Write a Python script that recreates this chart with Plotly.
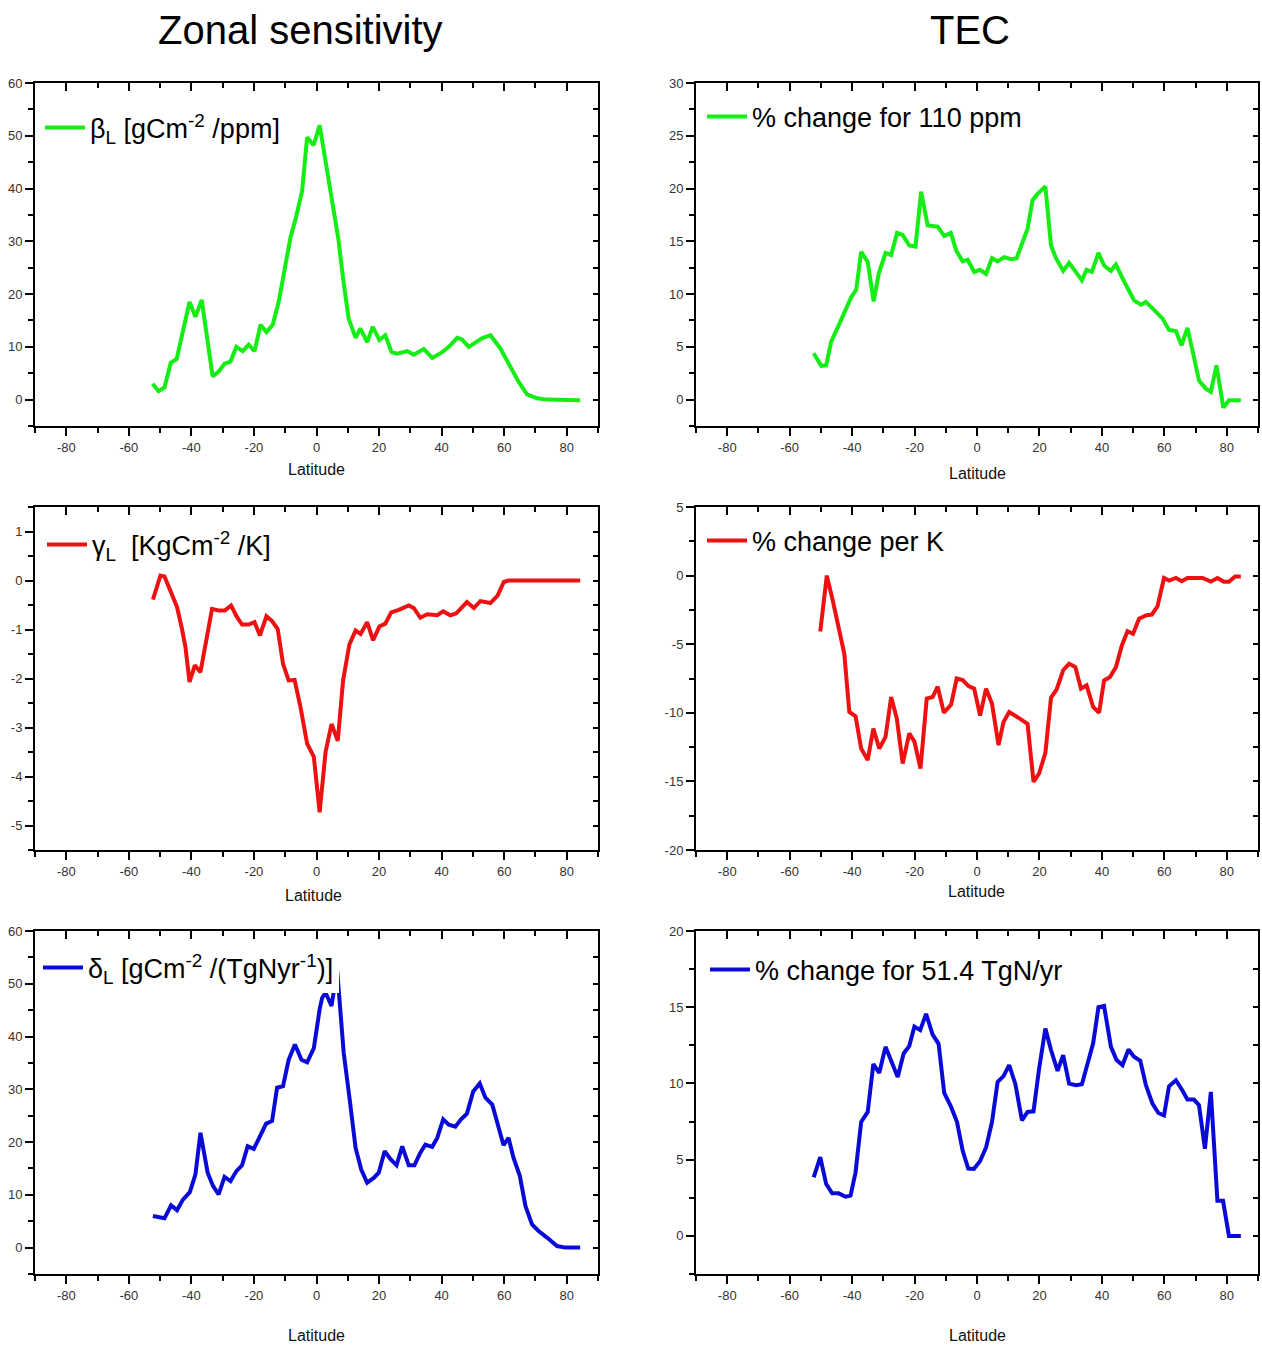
import plotly.graph_objects as go

# ---------------- data ----------------
lat_beta = [-52.4, -50.5, -48.6, -46.6, -44.7, -42.8, -40.6, -38.7, -36.7, -34.8, -33.2, -31.3,
            -29.4, -27.5, -25.6, -23.6, -21.7, -19.8, -17.9, -16.0, -14.0, -12.1, -10.2, -8.3,
            -6.7, -4.6, -3.0, -0.9, 1.0, 2.9, 5.0, 7.0, 8.7, 10.3, 12.5, 14.0, 16.2, 18.0, 20.1,
            22.0, 24.0, 25.8, 29.0, 31.1, 34.3, 37.0, 40.2, 42.3, 45.0, 46.5, 48.7, 50.8, 52.9,
            55.6, 58.8, 62.0, 64.6, 67.3, 70.5, 73.7, 79.0, 84.3]
beta = [3.0, 1.6, 2.3, 7.0, 7.7, 12.8, 18.5, 15.7, 18.9, 11.0, 4.4, 5.3,
        6.8, 7.2, 10.0, 9.2, 10.4, 9.2, 14.2, 12.8, 14.2, 18.5, 24.5, 30.8,
        34.2, 39.5, 49.7, 48.2, 52.0, 45.5, 37.4, 30.4, 22.0, 15.3, 11.7, 13.5, 10.9, 13.8, 11.3,
        12.2, 9.0, 8.7, 9.2, 8.5, 9.6, 7.9, 9.0, 10.0, 11.7, 11.4, 10.0, 10.9, 11.6,
        12.2, 9.7, 6.2, 3.4, 1.0, 0.25, 0.0, -0.1, -0.1]

lat_tec_co2 = [-52.3, -49.9, -48.3, -46.7, -44.05, -40.3, -38.7, -37.1, -35.0, -33.1, -31.5, -29.3,
               -27.5, -25.6, -23.8, -21.7, -19.7, -17.9, -15.8, -12.6, -10.5, -8.4, -6.6, -4.6,
               -3.0, -0.9, 0.9, 2.9, 4.8, 6.6, 8.7, 10.9, 12.7, 14.1, 16.2, 17.8, 19.4, 21.9,
               23.7, 25.3, 27.6, 29.5, 31.7, 33.6, 35.1, 36.8, 38.9, 40.7, 42.9, 44.5, 46.6,
               48.2, 50.3, 52.5, 54.1, 56.7, 59.4, 61.5, 63.7, 65.5, 67.4, 69.5, 71.1, 73.3,
               74.9, 76.7, 78.9, 80.7, 84.5]
tec_co2 = [4.4, 3.2, 3.25, 5.5, 7.2, 9.7, 10.4, 14.0, 13.05, 9.3, 11.9, 13.9,
           13.7, 15.8, 15.6, 14.6, 14.5, 19.7, 16.5, 16.4, 15.5, 15.8, 14.1, 13.1,
           13.25, 12.1, 12.3, 11.9, 13.4, 13.1, 13.5, 13.3, 13.4, 14.6, 16.2, 18.9, 19.5, 20.2,
           14.6, 13.4, 12.2, 12.95, 12.1, 11.3, 12.3, 12.1, 13.9, 12.7, 12.2, 12.8, 11.5,
           10.5, 9.4, 9.0, 9.26, 8.5, 7.7, 6.6, 6.5, 5.15, 6.8, 4.0, 1.8, 1.04,
           0.73, 3.25, -0.76, -0.06, -0.06]

lat_gamma = [-52.3, -51.0, -49.9, -48.6, -47.3, -45.9, -44.6, -43.0, -41.9, -40.6, -38.9, -37.1,
             -35.2, -33.4, -31.3, -29.3, -27.3, -25.4, -23.8, -21.7, -19.8, -18.1, -16.0, -14.2,
             -12.4, -10.7, -8.9, -7.0, -5.1, -3.0, -0.85, 1.0, 2.9, 4.8, 6.8, 8.5, 10.5, 12.5,
             14.1, 16.2, 18.1, 20.1, 22.0, 23.9, 26.3, 29.5, 31.1, 33.2, 35.4, 38.6, 40.5, 42.8,
             44.7, 48.1, 50.3, 52.4, 55.6, 57.9, 59.9, 61.4, 84.3]
gamma = [-0.39, -0.1, 0.1, 0.08, -0.14, -0.37, -0.54, -0.99, -1.36, -2.07, -1.73, -1.87,
         -1.22, -0.58, -0.61, -0.61, -0.51, -0.75, -0.9, -0.9, -0.85, -1.12, -0.73, -0.83,
         -0.99, -1.7, -2.04, -2.03, -2.59, -3.33, -3.6, -4.73, -3.5, -2.93, -3.27, -2.04, -1.31, -1.02,
         -1.09, -0.85, -1.22, -0.94, -0.88, -0.65, -0.6, -0.51, -0.56, -0.76, -0.69, -0.71, -0.63, -0.71,
         -0.67, -0.44, -0.56, -0.42, -0.46, -0.31, -0.03, 0.0, 0.0]

lat_tec_temp = [-50.2, -48.1, -46.2, -44.05, -42.5, -40.9, -38.9, -37.1, -35.0, -33.2, -31.3, -29.3,
                -27.5, -25.7, -23.8, -21.7, -20.05, -18.1, -16.1, -14.2, -12.6, -10.6, -8.3, -6.5,
                -4.6, -2.7, -0.9, 1.0, 2.9, 4.8, 6.9, 8.5, 10.3, 12.5, 14.4, 16.2, 18.1, 19.9,
                21.9, 23.7, 25.5, 27.6, 29.5, 31.5, 33.3, 35.1, 37.2, 39.1, 40.7, 42.6, 44.5,
                46.4, 48.2, 50.0, 51.9, 54.1, 56.0, 57.8, 59.9, 61.5, 63.7, 65.6, 67.4, 72.2,
                74.9, 77.0, 79.1, 80.7, 82.7, 84.5]
tec_temp = [-4.07, 0.0, -1.82, -4.24, -5.7, -9.94, -10.25, -12.6, -13.45, -11.15, -12.6, -11.76,
            -8.85, -10.4, -13.7, -11.5, -12.1, -14.06, -8.97, -8.85, -8.1, -10.0, -9.4, -7.5,
            -7.62, -8.06, -8.24, -10.2, -8.24, -9.33, -12.36, -10.67, -9.94, -10.25, -10.5, -10.8, -15.03, -14.42,
            -12.92, -8.9, -8.3, -6.9, -6.42, -6.67, -8.24, -8.0, -9.58, -10.0, -7.64, -7.39, -6.67,
            -5.09, -4.05, -4.24, -3.15, -2.9, -2.84, -2.25, -0.17, -0.36, -0.17, -0.41, -0.17, -0.17,
            -0.44, -0.17, -0.44, -0.44, -0.07, -0.07]

lat_delta = [-52.3, -50.5, -48.6, -46.5, -44.6, -42.7, -40.5, -38.7, -37.1, -34.8, -33.1, -31.3,
             -29.4, -27.5, -25.6, -23.8, -22.0, -20.05, -18.1, -16.1, -14.2, -12.6, -10.7, -8.9,
             -6.9, -4.8, -3.0, -0.85, 1.07, 1.8, 2.9, 4.8, 6.6, 8.7, 10.6, 12.5, 14.3, 16.2,
             18.3, 19.9, 21.8, 23.6, 25.6, 27.4, 29.5, 31.3, 33.2, 34.8, 37.0, 38.6, 40.5,
             42.3, 44.4, 46.2, 48.1, 50.1, 52.2, 54.0, 56.2, 57.7, 59.8, 61.4, 63.0, 65.0,
             66.8, 68.9, 71.0, 73.7, 76.9, 79.6, 84.3]
delta = [6.0, 5.8, 5.55, 8.0, 7.1, 9.1, 10.5, 13.9, 21.75, 14.2, 11.7, 10.1,
         13.4, 12.6, 14.5, 15.6, 19.2, 18.7, 21.1, 23.5, 24.0, 30.3, 30.6, 35.6,
         38.5, 35.6, 35.1, 37.8, 45.4, 47.3, 48.3, 45.8, 52.6, 36.9, 28.1, 18.9, 14.8, 12.3,
         13.2, 14.2, 18.3, 16.8, 15.6, 19.2, 15.6, 15.6, 18.0, 19.5, 19.1, 20.8, 24.3,
         23.3, 22.9, 24.3, 25.4, 29.6, 31.1, 28.4, 27.1, 23.6, 19.4, 20.8, 17.0, 13.6,
         7.9, 4.4, 3.15, 1.9, 0.3, 0.0, 0.0]

lat_tec_n = [-52.3, -50.2, -48.3, -46.4, -44.3, -42.1, -40.5, -38.9, -37.1, -35.0, -33.2, -31.3,
             -29.3, -27.3, -25.4, -23.5, -21.7, -20.05, -18.2, -16.3, -14.2, -12.3, -10.5, -8.3,
             -6.4, -4.6, -2.8, -1.0, 0.95, 2.9, 4.8, 6.6, 8.5, 10.3, 12.3, 14.4, 16.2, 18.1,
             19.9, 21.9, 23.7, 25.8, 27.6, 29.5, 31.7, 33.6, 35.4, 37.2, 38.9, 40.7, 42.9,
             44.7, 46.6, 48.5, 50.3, 52.3, 54.1, 56.2, 58.1, 59.9, 61.5, 63.7, 65.6, 67.4,
             69.5, 71.1, 73.0, 74.9, 77.0, 78.8, 80.7, 84.5]
tec_n = [3.84, 5.16, 3.4, 2.79, 2.79, 2.57, 2.64, 4.17, 7.47, 8.13, 11.27, 10.7,
         12.4, 11.4, 10.43, 11.97, 12.45, 13.73, 13.5, 14.56, 13.2, 12.6, 9.38, 8.46,
         7.47, 5.6, 4.42, 4.39, 4.9, 5.8, 7.47, 10.1, 10.48, 11.2, 9.95, 7.58, 8.13, 8.17,
         10.98, 13.6, 12.19, 10.83, 11.86, 9.99, 9.88, 9.95, 11.3, 12.63, 15.0, 15.09, 12.4,
         11.53, 11.2, 12.23, 11.75, 11.49, 9.88, 8.68, 8.06, 7.9, 9.82, 10.21, 9.6, 8.94,
         8.94, 8.57, 5.71, 9.44, 2.3, 2.3, 0.0, 0.0]

x_ticks = [-80, -60, -40, -20, 0, 20, 40, 60, 80]
y_ticks_beta = [0, 10, 20, 30, 40, 50, 60]
y_ticks_tec_co2 = [0, 5, 10, 15, 20, 25, 30]
y_ticks_gamma = [-5, -4, -3, -2, -1, 0, 1]
y_ticks_tec_temp = [-20, -15, -10, -5, 0, 5]
y_ticks_delta = [0, 10, 20, 30, 40, 50, 60]
y_ticks_tec_n = [0, 5, 10, 15, 20]
col_titles = ["Zonal sensitivity", "TEC"]
legend_names = [
    "β<sub>L</sub> [gCm<sup>-2</sup> /ppm]",
    "% change for 110 ppm",
    "γ<sub>L</sub>  [KgCm<sup>-2</sup> /K]",
    "% change per K",
    "δ<sub>L</sub> [gCm<sup>-2</sup> /(TgNyr<sup>-1</sup>)]",
    "% change for 51.4 TgN/yr",
]
x_title = "Latitude"

# ---------------- styling / layout ----------------
W, H = 1262, 1347
MT, MB = 8, 8                 # top / bottom figure margins (px)
FONT = "Liberation Sans, Arial, Helvetica, sans-serif"
GREEN, RED, BLUE = "#14ee14", "#ee1111", "#0a0ad8"


def fx(px):
    return px / W


def fy(py):
    return 1 - (py - MT) / (H - MT - MB)


def lab(v):
    return str(v)


panels = [
    dict(x=lat_beta, y=beta, color=GREEN, yr=[-5, 60], dt=10, yt=y_ticks_beta),
    dict(x=lat_tec_co2, y=tec_co2, color=GREEN, yr=[-2.5, 30], dt=5, yt=y_ticks_tec_co2),
    dict(x=lat_gamma, y=gamma, color=RED, yr=[-5.5, 1.5], dt=1, yt=y_ticks_gamma),
    dict(x=lat_tec_temp, y=tec_temp, color=RED, yr=[-20, 5], dt=5, yt=y_ticks_tec_temp),
    dict(x=lat_delta, y=delta, color=BLUE, yr=[-5, 60], dt=10, yt=y_ticks_delta),
    dict(x=lat_tec_n, y=tec_n, color=BLUE, yr=[-2.5, 20], dt=5, yt=y_ticks_tec_n),
]

col_px = [(35, 598), (696, 1258)]
row_px = [(83, 426), (507, 850), (931, 1274)]
legend_px = [(40, 128), (702, 117), (42, 545), (702, 541), (38, 968), (705, 970)]
xtitle_px = [(316, 470), (977, 474), (313, 895), (976, 891), (316, 1335), (977, 1335)]

fig = go.Figure()
layout = dict(
    width=W, height=H, margin=dict(l=0, r=0, t=MT, b=MB),
    paper_bgcolor="white", plot_bgcolor="white",
    font=dict(family=FONT, color="#222"),
    showlegend=True, annotations=[],
)

TICKFONT = dict(family=FONT, size=13, color="#333")

for i, p in enumerate(panels):
    n = i + 1
    m = i + 7
    r, c = divmod(i, 2)
    x0, x1 = col_px[c]
    yt, yb = row_px[r]
    lg = "legend" if n == 1 else f"legend{n}"

    fig.add_trace(go.Scatter(
        x=p["x"], y=p["y"], mode="lines", name=legend_names[i],
        line=dict(color=p["color"], width=4), xaxis=f"x{n}", yaxis=f"y{n}",
        legend=lg, hoverinfo="skip"))
    # empty trace that carries the top/right (inner-tick) axes
    fig.add_trace(go.Scatter(x=[None], y=[None], xaxis=f"x{m}", yaxis=f"y{m}",
                             showlegend=False, hoverinfo="skip"))

    layout[f"xaxis{n}"] = dict(
        domain=[fx(x0), fx(x1)], anchor=f"y{n}", range=[-90, 90],
        tickmode="array", tickvals=x_ticks, ticktext=[lab(v) for v in x_ticks],
        ticks="outside", ticklen=8, tickwidth=2, tickcolor="black",
        showline=True, linewidth=2, linecolor="black", mirror=True,
        showgrid=False, zeroline=False, tickfont=TICKFONT,
        minor=dict(dtick=10, tick0=-90, ticks="outside", ticklen=5, tickwidth=1.5,
                   tickcolor="black", showgrid=False),
    )
    layout[f"yaxis{n}"] = dict(
        domain=[fy(yb), fy(yt)], anchor=f"x{n}", range=p["yr"],
        tickmode="array", tickvals=p["yt"], ticktext=[lab(v) for v in p["yt"]],
        ticks="outside", ticklen=8, tickwidth=2, tickcolor="black",
        showline=True, linewidth=2, linecolor="black", mirror=True,
        showgrid=False, zeroline=False, tickfont=TICKFONT,
        minor=dict(dtick=p["dt"] / 2, tick0=0, ticks="outside", ticklen=5, tickwidth=1.5,
                   tickcolor="black", showgrid=False),
    )
    layout[f"xaxis{m}"] = dict(
        overlaying=f"x{n}", anchor=f"y{m}", side="top", range=[-90, 90],
        tickmode="array", tickvals=x_ticks, ticks="inside", ticklen=8, tickwidth=2,
        tickcolor="black", showticklabels=False, showline=False, showgrid=False, zeroline=False,
        minor=dict(dtick=10, tick0=-90, ticks="inside", ticklen=5, tickwidth=1.5,
                   tickcolor="black", showgrid=False),
    )
    layout[f"yaxis{m}"] = dict(
        overlaying=f"y{n}", anchor=f"x{m}", side="right", range=p["yr"],
        tickmode="array", tickvals=p["yt"],
        ticks="inside", ticklen=5, tickwidth=2, tickcolor="black",
        showticklabels=False, showline=False, showgrid=False, zeroline=False,
        minor=dict(dtick=p["dt"] / 2, tick0=0, ticks="inside", ticklen=5, tickwidth=1.5,
                   tickcolor="black", showgrid=False),
    )

    lx, ly = legend_px[i]
    layout[lg] = dict(
        x=fx(lx), y=fy(ly), xanchor="left", yanchor="middle",
        xref="paper", yref="paper",
        bgcolor="white", borderwidth=0,
        font=dict(family=FONT, size=27, color="black"),
        itemwidth=40,
    )

    tx, ty = xtitle_px[i]
    layout["annotations"].append(dict(
        text=x_title, x=fx(tx), y=fy(ty), xref="paper", yref="paper",
        xanchor="center", yanchor="middle", showarrow=False,
        font=dict(family=FONT, size=16, color="#111")))

for c, t in enumerate(col_titles):
    cx = [300, 970][c]
    layout["annotations"].append(dict(
        text=t, x=fx(cx), y=fy(30), xref="paper", yref="paper",
        xanchor="center", yanchor="middle", showarrow=False,
        font=dict(family=FONT, size=40, color="black")))

fig.update_layout(**layout)
# remove the default 8px page margin so the figure fills the window exactly
fig.write_html("out.html", config={"displayModeBar": False},
               post_script="document.body.style.margin='0px';document.body.style.overflow='hidden';")
